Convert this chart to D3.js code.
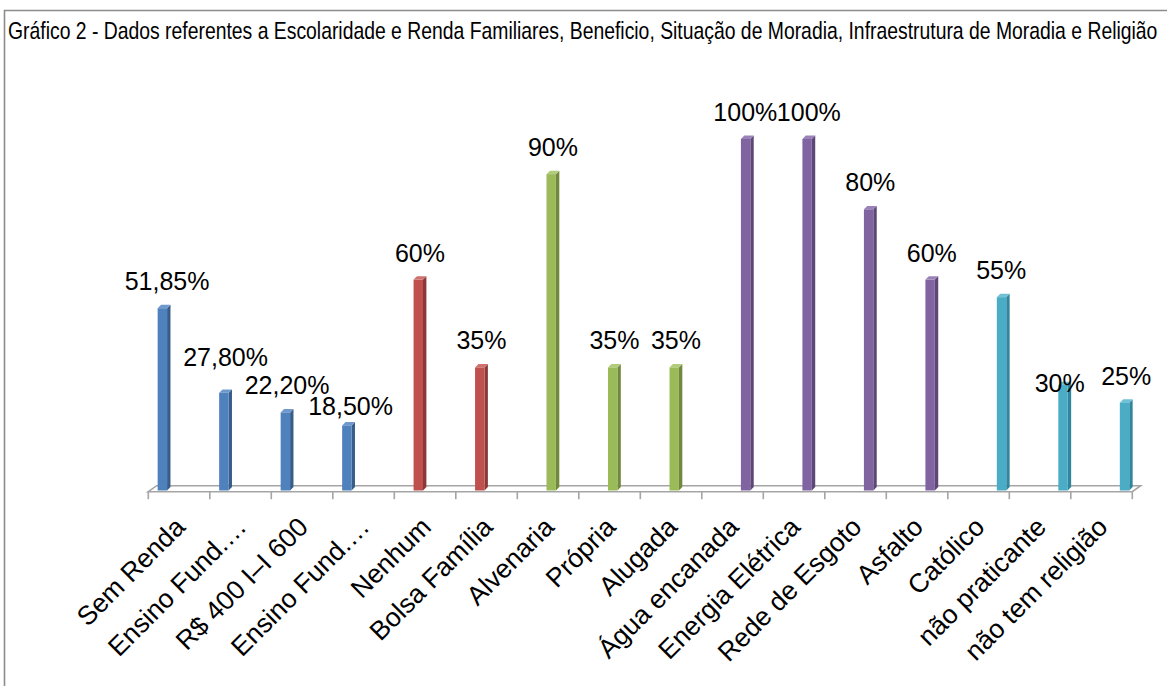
<!DOCTYPE html>
<html lang="pt-BR">
<head>
<meta charset="utf-8">
<script src="https://cdn.jsdelivr.net/npm/d3@7"></script>
<style>
  body { margin: 0; background: #fff; }
  svg { display: block; }
  text { font-family: "Liberation Sans", Arial, sans-serif; fill: #000; }
</style>
</head>
<body>
<svg id="chart" width="1167" height="686"></svg>
<script>
// Categorias do eixo X
const categories = [
  "Sem Renda", "Ensino Fund.…", "R$ 400 I–I 600", "Ensino Fund.…",
  "Nenhum", "Bolsa Família",
  "Alvenaria", "Própria", "Alugada",
  "Água encanada", "Energia Elétrica", "Rede de Esgoto", "Asfalto",
  "Católico", "não praticante", "não tem religião"
];
// Percentuais (%)
const values = [51.85, 27.80, 22.20, 18.50, 60, 35, 90, 35, 35, 100, 100, 80, 60, 55, 30, 25];
// Série (grupo temático) de cada categoria
const seriesNames = ["Escolaridade e Renda", "Benefício", "Situação de Moradia", "Infraestrutura de Moradia", "Religião"];
const seriesOf = [0, 0, 0, 0, 1, 1, 2, 2, 2, 3, 3, 3, 3, 4, 4, 4];
// Ajustes manuais de rótulos de dados (dx, dy)
const labelNudge = [[3, 0], [0, -9], [0, 0], [2, 8], [0, 0], [0, 0], [0, 0], [0, 0], [0, 0],
                    [-2, 0], [0, 0], [0, 0], [0, 0], [-2, 0], [-5, 25], [0, 0]];

const title = "Gráfico 2 - Dados referentes a Escolaridade e Renda Familiares, Beneficio, Situação de Moradia, Infraestrutura de Moradia e Religião";

const faceColors = ["#4f81bd", "#c0504d", "#9bbb59", "#8064a2", "#4bacc6"];
const sideColors = ["#385d8a", "#8c3836", "#71893f", "#5c4776", "#31859c"];
const topColors  = ["#6f98cc", "#d0716e", "#b1cc7a", "#9a82b8", "#70c0d6"];

const svg = d3.select("#chart");

// moldura
svg.append("path")
  .attr("d", "M4.5,686 V10.5 H1167")
  .attr("fill", "none").attr("stroke", "#8c8c8c").attr("stroke-width", 1.6);

// título em fonte condensada (escala horizontal)
const titleText = svg.append("text")
  .attr("x", 0).attr("y", 0)
  .style("font-size", "24px")
  .text(title);
const natural = titleText.node().getComputedTextLength();
const sx = 1150 / natural;
titleText.attr("transform", `translate(8,39) scale(${sx},1)`);

// escalas
const x0 = d3.scaleBand().domain(d3.range(categories.length)).range([148.3, 1132.3]).padding(0);
const x1 = d3.scaleBand().domain(d3.range(seriesNames.length)).range([0, x0.bandwidth()]).paddingOuter(0.6).paddingInner(0);
const y = d3.scaleLinear().domain([0, 100]).range([490.5, 139]);
const depth = 3.4;          // profundidade do efeito 3D
const floorDx = 8.4, floorDy = 6;
const base = y(0);
const front = 491.7;

// piso 3D
const xl = x0.range()[0], xr = x0.range()[1];
svg.append("path")
  .attr("d", `M${xl},${front} L${xl + floorDx},${front - floorDy} L${xr + floorDx},${front - floorDy} L${xr},${front} Z`)
  .attr("fill", "none").attr("stroke", "#a5a5a5").attr("stroke-width", 1.6);

// marcas do eixo nas divisões das categorias
const boundaries = d3.range(categories.length + 1).map(i => i < categories.length ? x0(i) : xr);
svg.append("g").selectAll("line").data(boundaries).join("line")
  .attr("x1", d => d).attr("x2", d => d)
  .attr("y1", front).attr("y2", front + 7.5)
  .attr("stroke", "#a5a5a5").attr("stroke-width", 1.6);

// barras
const bw = x1.bandwidth() * 0.95;
const bars = svg.append("g").selectAll("g").data(values).join("g");
const bx = (d, i) => x0(i) + x1(seriesOf[i]) + depth;

bars.append("path") // lateral
  .attr("d", (d, i) => {
    const x = bx(d, i) + bw, t = y(d);
    return `M${x},${base} L${x},${t} L${x + depth},${t - depth} L${x + depth},${base - depth} Z`;
  })
  .attr("fill", (d, i) => sideColors[seriesOf[i]]);

bars.append("path") // topo
  .attr("d", (d, i) => {
    const x = bx(d, i), t = y(d);
    return `M${x},${t} L${x + bw},${t} L${x + bw + depth},${t - depth} L${x + depth},${t - depth} Z`;
  })
  .attr("fill", (d, i) => topColors[seriesOf[i]]);

bars.append("rect") // face frontal
  .attr("x", bx)
  .attr("y", d => y(d))
  .attr("width", bw)
  .attr("height", d => base - y(d))
  .attr("fill", (d, i) => faceColors[seriesOf[i]]);

// rótulos de dados
const fmt = v => (Number.isInteger(v) ? String(v) : v.toFixed(2).replace(".", ",")) + "%";
svg.append("g").selectAll("text").data(values).join("text")
  .attr("x", (d, i) => bx(d, i) + bw / 2 + depth / 2 + labelNudge[i][0])
  .attr("y", (d, i) => y(d) - 18 + labelNudge[i][1])
  .attr("text-anchor", "middle")
  .style("font-size", "25px")
  .text(fmt);

// rótulos das categorias (rotacionados)
svg.append("g").selectAll("text").data(categories).join("text")
  .attr("transform", (d, i) => `translate(${x0(i) + x0.bandwidth() / 2 + 1},522) rotate(-45)`)
  .attr("text-anchor", "end")
  .attr("dy", "0.35em")
  .style("font-size", "26.5px")
  .text(d => d);
</script>
</body>
</html>
